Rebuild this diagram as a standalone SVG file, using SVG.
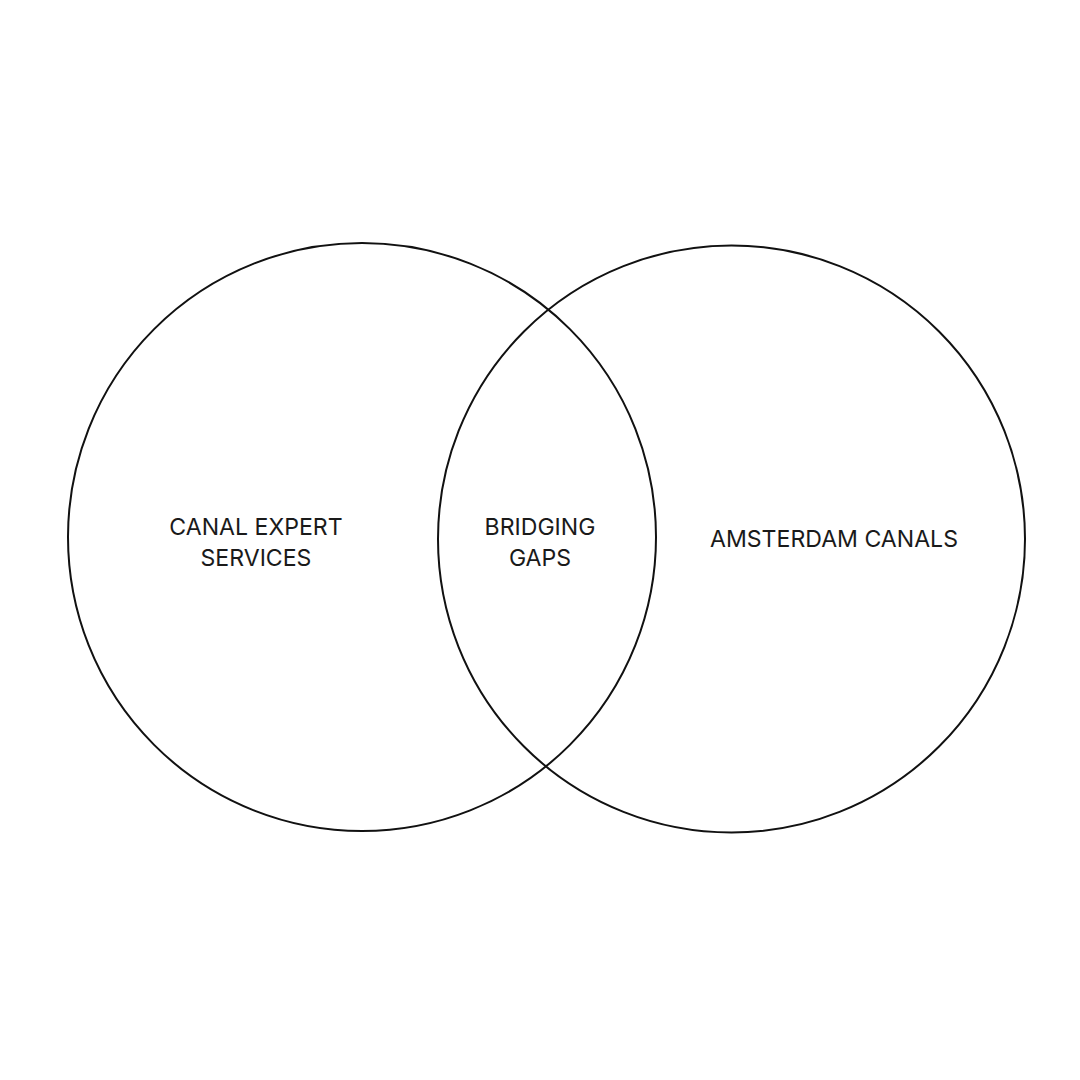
<svg xmlns="http://www.w3.org/2000/svg" width="1080" height="1080" viewBox="0 0 1080 1080">
<style>
.c{fill:none;stroke:#111;stroke-width:2}
.t{font-family:Inter,"Liberation Sans",sans-serif;font-size:23.1px;fill:#1a1a1a;text-anchor:middle}
</style>
<rect width="1080" height="1080" fill="#fff"/>
<g id="left">
<circle class="c" cx="362" cy="537" r="294"/>
<text class="t" x="256" y="535">CANAL EXPERT</text>
<text class="t" x="256" y="566">SERVICES</text>
</g>
<g id="right">
<circle class="c" cx="731.5" cy="539" r="293.5"/>
<text class="t" x="834" y="547">AMSTERDAM CANALS</text>
</g>
<g id="overlap">
<text class="t" x="540" y="535">BRIDGING</text>
<text class="t" x="540" y="566">GAPS</text>
</g>
<g id="connectors"></g>
</svg>
